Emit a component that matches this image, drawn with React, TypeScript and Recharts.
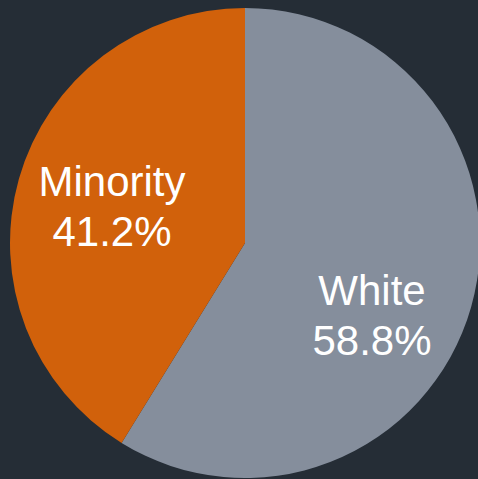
import { Cell, Pie, PieChart } from "recharts";

const GROUPS = ["White", "Minority"];
const SHARES = [58.8, 41.2];
const COLORS = ["#858e9c", "#d1610b"];

// label anchor offsets from pie center, per slice
const LABEL_OFFSETS = [
  { dx: 127, dy: 74 },
  { dx: -133, dy: -35 },
];

const data = GROUPS.map((name, i) => ({ name, value: SHARES[i] }));

function renderLabel(props: any) {
  const { cx, cy, index, name, value } = props;
  const off = LABEL_OFFSETS[index];
  const x = cx + off.dx;
  const y = cy + off.dy;
  return (
    <text
      x={x}
      y={y}
      fill="#ffffff"
      textAnchor="middle"
      fontFamily="Liberation Sans, Arial, sans-serif"
      fontSize={42}
    >
      <tspan x={x} dy={-12}>
        {name}
      </tspan>
      <tspan x={x} dy={50}>
        {value.toFixed(1)}%
      </tspan>
    </text>
  );
}

export default function App() {
  return (
    <div
      style={{
        position: "fixed",
        top: 0,
        left: 0,
        width: 478,
        height: 479,
        background: "#252d36",
        overflow: "hidden",
      }}
    >
      <PieChart width={478} height={479} margin={{ top: 0, right: 0, bottom: 0, left: 0 }}>
        <Pie
          data={data}
          dataKey="value"
          nameKey="name"
          cx={245}
          cy={243}
          outerRadius={235}
          startAngle={90}
          endAngle={-270}
          stroke="none"
          labelLine={false}
          label={renderLabel}
          isAnimationActive={false}
        >
          {data.map((_, i) => (
            <Cell key={i} fill={COLORS[i]} />
          ))}
        </Pie>
      </PieChart>
    </div>
  );
}
